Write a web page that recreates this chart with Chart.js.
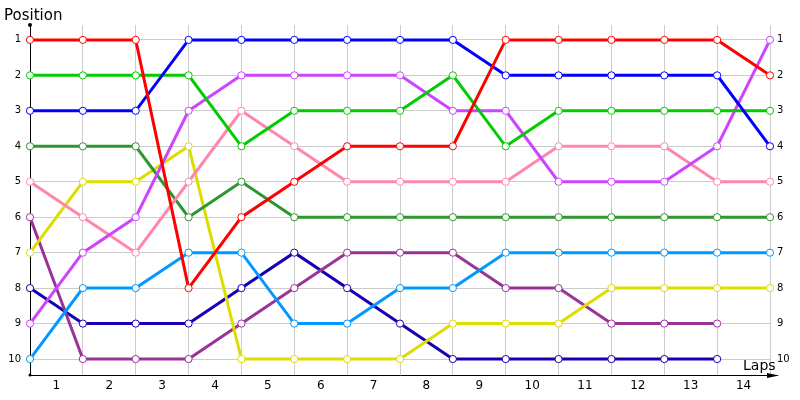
<!DOCTYPE html>
<html>
<head>
<meta charset="utf-8">
<script src="https://cdn.jsdelivr.net/npm/chart.js@4/dist/chart.umd.min.js"></script>
<style>
  html, body { margin: 0; padding: 0; background: #fff; }
  #wrap { width: 800px; height: 400px; }
</style>
</head>
<body>
<div id="wrap"><canvas id="raceChart"></canvas></div>
<script>
// lap points (0 = start) and the lap labels shown between grid lines
const laps = ['0', '1', '2', '3', '4', '5', '6', '7', '8', '9', '10', '11', '12', '13', '14'];
const lapLabels = ['1', '2', '3', '4', '5', '6', '7', '8', '9', '10', '11', '12', '13', '14'];
const positionTicks = [1, 2, 3, 4, 5, 6, 7, 8, 9, 10];

const redPos       = [1, 1, 1, 8, 6, 5, 4, 4, 4, 1, 1, 1, 1, 1, 2];
const greenPos     = [2, 2, 2, 2, 4, 3, 3, 3, 2, 4, 3, 3, 3, 3, 3];
const bluePos      = [3, 3, 3, 1, 1, 1, 1, 1, 1, 2, 2, 2, 2, 2, 4];
const darkGreenPos = [4, 4, 4, 6, 5, 6, 6, 6, 6, 6, 6, 6, 6, 6, 6];
const pinkPos      = [5, 6, 7, 5, 3, 4, 5, 5, 5, 5, 4, 4, 4, 5, 5];
const purplePos    = [6, 10, 10, 10, 9, 8, 7, 7, 7, 8, 8, 9, 9, 9];
const yellowPos    = [7, 5, 5, 4, 10, 10, 10, 10, 9, 9, 9, 8, 8, 8, 8];
const violetPos    = [9, 7, 6, 3, 2, 2, 2, 2, 3, 3, 5, 5, 5, 4, 1];
const skyPos       = [10, 8, 8, 7, 7, 9, 9, 8, 8, 7, 7, 7, 7, 7, 7];
const navyPos      = [8, 9, 9, 9, 8, 7, 8, 9, 10, 10, 10, 10, 10, 10];

const series = [
    { name: 'Red', data: redPos, color: '#ff0000' },
    { name: 'Blue', data: bluePos, color: '#0000ff' },
    { name: 'Green', data: greenPos, color: '#00cc00' },
    { name: 'Violet', data: violetPos, color: '#cc44ff' },
    { name: 'Pink', data: pinkPos, color: '#ff88aa' },
    { name: 'Dark green', data: darkGreenPos, color: '#2e962e' },
    { name: 'Yellow', data: yellowPos, color: '#dddd00' },
    { name: 'Sky', data: skyPos, color: '#0099ff' },
    { name: 'Purple', data: purplePos, color: '#993399' },
    { name: 'Navy', data: navyPos, color: '#1500b5' }
];

// axis arrows and the two captions
const decorations = {
    id: 'decorations',
    afterDraw(chart) {
        const { ctx, chartArea: a } = chart;
        ctx.save();
        ctx.fillStyle = '#000';
        ctx.strokeStyle = '#000';
        ctx.lineWidth = 1;

        ctx.beginPath();
        ctx.arc(a.left, a.top, 2, 0, Math.PI * 2);
        ctx.fill();
        ctx.beginPath();
        ctx.arc(a.left, a.bottom, 1.5, 0, Math.PI * 2);
        ctx.fill();

        ctx.beginPath();
        ctx.moveTo(a.right, a.bottom + 0.5);
        ctx.lineTo(a.right + 8, a.bottom + 0.5);
        ctx.stroke();
        ctx.beginPath();
        ctx.moveTo(a.right + 9, a.bottom + 0.5);
        ctx.lineTo(a.right - 3, a.bottom - 2);
        ctx.lineTo(a.right - 3, a.bottom + 3);
        ctx.closePath();
        ctx.fill();

        ctx.font = '15px "DejaVu Sans"';
        ctx.textBaseline = 'alphabetic';
        ctx.textAlign = 'left';
        ctx.fillText('Position', 4, 20);
        ctx.font = '14px "DejaVu Sans"';
        ctx.fillText('Laps', 743, 370);
        ctx.restore();
    }
};

const ctx = document.getElementById('raceChart').getContext('2d');
const raceChart = new Chart(ctx, {
    type: 'line',
    data: {
        labels: laps,
        datasets: series.map(s => ({
            label: s.name,
            data: s.data,
            borderColor: s.color,
            backgroundColor: '#ffffff',
            borderWidth: 3,
            pointRadius: 3.6,
            pointBorderWidth: 1,
            pointBorderColor: s.color,
            pointBackgroundColor: '#ffffff',
            tension: 0,
            clip: false,
            xAxisID: 'x',
            yAxisID: 'y'
        }))
    },
    options: {
        responsive: true,
        maintainAspectRatio: false,
        animation: false,
        layout: { padding: { top: 25, left: 0, right: 0, bottom: 0 } },
        plugins: {
            legend: { display: false },
            tooltip: { enabled: false }
        },
        scales: {
            x: {
                type: 'category',
                position: 'bottom',
                offset: false,
                grid: { color: '#cccccc', drawTicks: false },
                border: { display: true, color: '#000000', width: 1 },
                ticks: { display: false },
                afterFit: s => { s.height = 0; }
            },
            x2: {
                type: 'category',
                position: 'bottom',
                labels: lapLabels,
                offset: true,
                grid: { display: false, drawTicks: false },
                border: { display: false },
                ticks: {
                    color: '#000000',
                    font: { family: 'DejaVu Sans', size: 12 },
                    padding: 4
                },
                afterFit: s => { s.height = 25; }
            },
            y: {
                type: 'linear',
                position: 'left',
                reverse: true,
                min: 0.58,
                max: 10.45,
                grid: { color: '#cccccc', drawTicks: false },
                border: { display: true, color: '#000000', width: 1 },
                ticks: {
                    color: '#000000',
                    font: { family: 'DejaVu Sans', size: 10 },
                    padding: 9
                },
                afterBuildTicks: s => { s.ticks = positionTicks.map(v => ({ value: v })); },
                afterFit: s => { s.width = 30; }
            },
            y2: {
                type: 'linear',
                position: 'right',
                reverse: true,
                min: 0.58,
                max: 10.45,
                grid: { display: false, drawTicks: false },
                border: { display: false },
                ticks: {
                    color: '#000000',
                    font: { family: 'DejaVu Sans', size: 10 },
                    padding: 7
                },
                afterBuildTicks: s => { s.ticks = positionTicks.map(v => ({ value: v })); },
                afterFit: s => { s.width = 30; }
            }
        }
    },
    plugins: [decorations]
});
</script>
</body>
</html>
